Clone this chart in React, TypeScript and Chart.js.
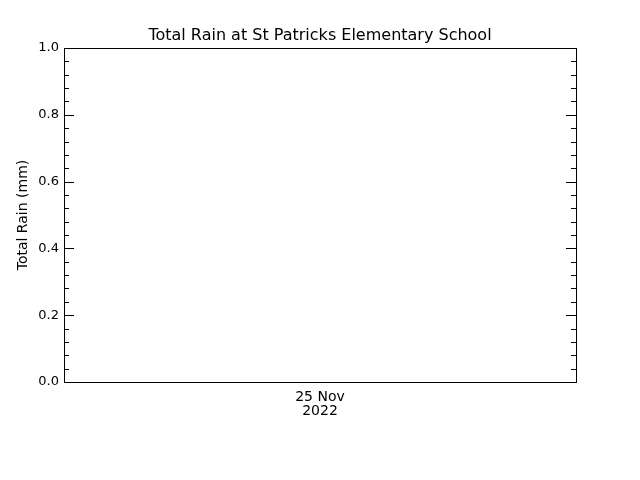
import React, { useEffect, useRef } from 'react';
import { Chart, registerables } from 'chart.js';

Chart.register(...registerables);

const chartTitle = 'Total Rain at St Patricks Elementary School';
const yAxisTitle = 'Total Rain (mm)';
const dateLabels: string[][] = [['25 Nov', '2022']];
const rainValues: (number | null)[] = [null];
const yMin = 0;
const yMax = 1;
const yStep = 0.2;

const FONT = '"DejaVu Sans", sans-serif';

// frame and inward tick marks (major + 4 minor) on left and right
const framePlugin = {
  id: 'frame',
  afterDraw(chart: Chart) {
    const { ctx, chartArea } = chart;
    const y = chart.scales.y;
    const { left, right, top, bottom } = chartArea;
    ctx.save();
    ctx.strokeStyle = '#000';
    ctx.lineWidth = 1;
    ctx.strokeRect(left + 0.5, top + 0.5, right - left, bottom - top);
    const ticks = y.ticks.map((t) => t.value);
    ctx.beginPath();
    ticks.forEach((v, i) => {
      const py = Math.round(y.getPixelForValue(v)) + 0.5;
      ctx.moveTo(left, py);
      ctx.lineTo(left + 10, py);
      ctx.moveTo(right, py);
      ctx.lineTo(right - 10, py);
      if (i < ticks.length - 1) {
        const next = ticks[i + 1];
        for (let k = 1; k < 5; k++) {
          const my = Math.round(y.getPixelForValue(v + ((next - v) * k) / 5)) + 0.5;
          ctx.moveTo(left, my);
          ctx.lineTo(left + 5, my);
          ctx.moveTo(right, my);
          ctx.lineTo(right - 5, my);
        }
      }
    });
    ctx.stroke();
    ctx.restore();
  },
};

const RainChart: React.FC = () => {
  const canvasRef = useRef<HTMLCanvasElement>(null);
  const chartRef = useRef<Chart | null>(null);

  useEffect(() => {
    if (!canvasRef.current) return;
    if (chartRef.current) chartRef.current.destroy();

    chartRef.current = new Chart(canvasRef.current, {
      type: 'line',
      data: {
        labels: dateLabels,
        datasets: [
          {
            data: rainValues,
            borderColor: '#000',
            borderWidth: 1,
            pointRadius: 0,
          },
        ],
      },
      options: {
        animation: false,
        responsive: false,
        devicePixelRatio: 1,
        layout: { padding: 0 },
        plugins: {
          legend: { display: false },
          tooltip: { enabled: false },
          title: {
            display: true,
            text: chartTitle,
            color: '#000',
            font: { family: FONT, size: 16, weight: 'normal', lineHeight: 1 },
            padding: { top: 28, bottom: 4 },
          },
        },
        scales: {
          x: {
            type: 'category',
            offset: true,
            grid: { display: false, drawTicks: false },
            border: { display: false },
            ticks: {
              color: '#000',
              font: { family: FONT, size: 14, lineHeight: 1 },
              padding: 8,
              maxRotation: 0,
            },
            afterFit: (scale: any) => {
              scale.height = 98;
            },
          },
          y: {
            min: yMin,
            max: yMax,
            grid: { display: false, drawTicks: false },
            border: { display: false },
            ticks: {
              stepSize: yStep,
              color: '#000',
              font: { family: FONT, size: 13 },
              padding: 5,
              callback: (v: any) => Number(v).toFixed(1),
            },
            title: {
              display: true,
              text: yAxisTitle,
              color: '#000',
              font: { family: FONT, size: 14 },
              padding: { top: 15, bottom: 0 },
            },
            afterFit: (scale: any) => {
              scale.width = 64;
            },
          },
          yRight: {
            position: 'right',
            min: yMin,
            max: yMax,
            grid: { display: false, drawTicks: false },
            border: { display: false },
            ticks: { display: false },
            afterFit: (scale: any) => {
              scale.width = 64;
            },
          },
        },
      },
      plugins: [framePlugin],
    });

    return () => chartRef.current?.destroy();
  }, []);

  return (
    <div style={{ position: 'fixed', left: 0, top: 0, width: 640, height: 480, background: '#fff' }}>
      <canvas ref={canvasRef} width={640} height={480} style={{ width: 640, height: 480 }}></canvas>
    </div>
  );
};

export default function App() {
  return <RainChart />;
}
